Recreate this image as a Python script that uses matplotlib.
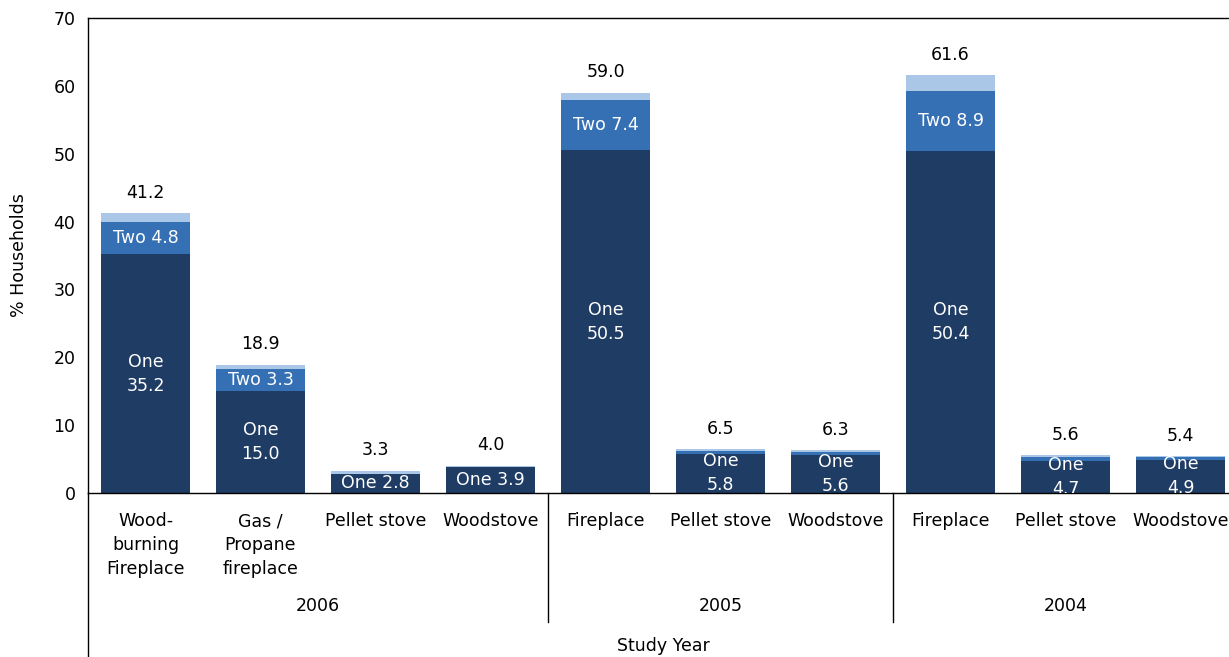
import matplotlib
matplotlib.use("Agg")
import matplotlib.pyplot as plt
from matplotlib.transforms import blended_transform_factory

# Household heating appliance ownership by study year
categories = ["Wood-\nburning\nFireplace", "Gas /\nPropane\nfireplace", "Pellet stove", "Woodstove",
              "Fireplace", "Pellet stove", "Woodstove",
              "Fireplace", "Pellet stove", "Woodstove"]
years = ["2006", "2005", "2004"]
group_sizes = [4, 3, 3]
totals = [41.2, 18.9, 3.3, 4.0, 59.0, 6.5, 6.3, 61.6, 5.6, 5.4]
one = [35.2, 15.0, 2.8, 3.9, 50.5, 5.8, 5.6, 50.4, 4.7, 4.9]
two = [4.8, 3.3, 0.0, 0.0, 7.4, 0.4, 0.5, 8.9, 0.6, 0.4]
two_labelled = [True, True, False, False, True, False, False, True, False, False]
one_two_lines = [True, True, False, False, True, True, True, True, True, True]
more = [t - o - w for t, o, w in zip(totals, one, two)]

C_ONE = "#1f3c64"
C_TWO = "#3570b4"
C_MORE = "#abc7e8"
FS = 12.5
LS = 1.42

W, H = 1229, 657
fig = plt.figure(figsize=(W / 100, H / 100), dpi=100)
slot = 115.0
ax = fig.add_axes([88 / W, (H - 493) / H, 10 * slot / W, (493 - 18) / H])

x = list(range(len(categories)))
bw = 0.77
ax.bar(x, one, bw, color=C_ONE, zorder=2)
ax.bar(x, two, bw, bottom=one, color=C_TWO, zorder=2)
base2 = [o + w for o, w in zip(one, two)]
ax.bar(x, more, bw, bottom=base2, color=C_MORE, zorder=2)

for i in x:
    # total above the stack
    ax.text(i, totals[i] + 3.0, f"{totals[i]:.1f}", ha="center", va="center",
            fontsize=FS, color="black")
    # "One" segment label
    lbl = f"One\n{one[i]:.1f}" if one_two_lines[i] else f"One {one[i]:.1f}"
    ax.text(i, one[i] / 2, lbl, ha="center", va="center", fontsize=FS,
            color="white", linespacing=LS, clip_on=True, zorder=3)
    if two_labelled[i]:
        ax.text(i, one[i] + two[i] / 2, f"Two {two[i]:.1f}", ha="center",
                va="center", fontsize=FS, color="white", zorder=3)

ax.set_xlim(-0.5, len(categories) - 0.5)
ax.set_ylim(0, 70)
ax.set_yticks(range(0, 71, 10))
ax.tick_params(axis="y", length=0, pad=9, labelsize=FS)
ax.set_xticks([])
for s in ["left", "bottom", "top", "right"]:
    ax.spines[s].set_linewidth(1.0)
    ax.spines[s].set_color("black")
ax.set_ylabel("% Households", fontsize=FS)
ax.yaxis.set_label_coords(-60 / (10 * slot), 0.5)

# two-level category axis below the plot
px = 1.0 / (493 - 18)  # one pixel in axes-fraction units (vertical)
trans = blended_transform_factory(ax.transData, ax.transAxes)
for i, c in enumerate(categories):
    ax.text(i, -(512 - 493) * px, c, transform=trans, ha="center", va="top",
            fontsize=FS, linespacing=LS, clip_on=False)

start = 0
for yr, n in zip(years, group_sizes):
    ax.text(start + (n - 1) / 2, -(606 - 493) * px, yr, transform=trans,
            ha="center", va="center", fontsize=FS, clip_on=False)
    end = start + n
    if end < len(categories):
        ax.plot([end - 0.5, end - 0.5], [0, -(622 - 493) * px], transform=trans,
                color="black", lw=1.0, clip_on=False)
    start = end

ax.plot([-0.5, -0.5], [0, -(657 - 493) * px], transform=trans, color="black",
        lw=1.0, clip_on=False)
fig.text(663 / W, 1 - 646 / H, "Study Year", ha="center", va="center", fontsize=FS)

fig.savefig("out.png", dpi=100)
